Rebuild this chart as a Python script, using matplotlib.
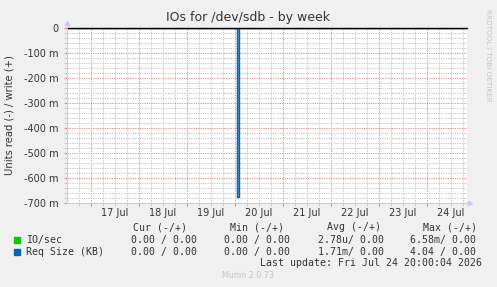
import numpy as np
import pandas as pd
import matplotlib
matplotlib.use("Agg")
import matplotlib.pyplot as plt
import matplotlib.dates as mdates

# data
t_start = pd.Timestamp("2026-07-16 12:00")
t_end = pd.Timestamp("2026-07-24 20:00")
spike_times = pd.to_datetime(["2026-07-16 12:00", "2026-07-20 00:50",
                              "2026-07-20 01:50", "2026-07-24 20:00"])
req_size_read = [0.0, -0.675, 0.0, 0.0]
io_read = [0.0, 0.0, 0.0, 0.0]

y_ticks = [0, -0.1, -0.2, -0.3, -0.4, -0.5, -0.6, -0.7]
y_labels = ["0", "-100 m", "-200 m", "-300 m", "-400 m", "-500 m", "-600 m", "-700 m"]
day_labels = ["17 Jul", "18 Jul", "19 Jul", "20 Jul", "21 Jul", "22 Jul", "23 Jul", "24 Jul"]

legend_names = ["IO/sec", "Req Size (KB)"]
legend_colors = ["#00CC00", "#0066B3"]
cur_vals = ["0.00 / 0.00", "0.00 / 0.00"]
min_vals = ["0.00 / 0.00", "0.00 / 0.00"]
avg_vals = ["2.78u/ 0.00", "1.71m/ 0.00"]
max_vals = ["6.58m/ 0.00", "4.04 / 0.00"]

W, H = 497, 287
bg = "#F0F0F0"
txt = "#333333"
major_c = "#e28a8a"
minor_c = "#c4c4c4"
axis_c = "#c8c8f4"

fig = plt.figure(figsize=(W / 100, H / 100), dpi=100, facecolor=bg)
ax = fig.add_axes([67 / W, 1 - 203 / H, 400 / W, 175 / H])
ax.set_facecolor("white")

ax.set_xlim(t_start, t_end)
ax.set_ylim(-0.7, 0)

# grid
midnights = pd.date_range("2026-07-17", "2026-07-24", freq="D")
six_h = pd.date_range("2026-07-16 18:00", "2026-07-24 18:00", freq="6h")
six_h = [t for t in six_h if t.hour != 0]
ax.set_xticks(midnights)
ax.set_xticks(six_h, minor=True)
ax.set_xticklabels([])
ax.set_yticks(y_ticks)
ax.set_yticklabels(y_labels)
ax.set_yticks(np.arange(-0.68, 0.0, 0.02), minor=True)
ax.grid(which="minor", color=minor_c, linestyle=(0, (1.2, 1.2)), linewidth=0.7)
ax.grid(which="major", color=major_c, linestyle=(0, (1.2, 1.2)), linewidth=0.7)
ax.set_axisbelow(True)
ax.tick_params(which="major", length=2, color=major_c, labelsize=7, labelcolor=txt, pad=4)
ax.tick_params(which="minor", length=2, color=minor_c)

# day labels at noon
for i, lab in enumerate(day_labels):
    ax.text(midnights[i] + pd.Timedelta(hours=12), -0.7 - 0.018, lab, ha="center", va="top",
            fontsize=7, color=txt)

for s in ["top", "right"]:
    ax.spines[s].set_visible(False)
for s in ["left", "bottom"]:
    ax.spines[s].set_color(axis_c)
    ax.spines[s].set_linewidth(0.8)

# series
ax.plot(spike_times, io_read, color=legend_colors[0], lw=1, drawstyle="steps-post")
ax.fill_between(spike_times, req_size_read, 0, step="post", color="#5a9ed6", lw=0)
ax.plot(spike_times, req_size_read, color=legend_colors[1], lw=1, drawstyle="steps-post")
ax.axhline(0, color="black", lw=1, clip_on=False)

# axis arrows
ax.plot([0], [1.03], marker="^", ms=3, color=axis_c, transform=ax.transAxes, clip_on=False)
ax.plot([1.007], [0], marker=">", ms=3, color=axis_c, transform=ax.transAxes, clip_on=False)

# texts
fig.text(248 / W, 1 - 18 / H, "IOs for /dev/sdb - by week", ha="center", va="center",
         fontsize=9, color=txt)
fig.text(10 / W, 1 - 115 / H, "Units read (-) / write (+)", rotation=90, ha="center",
         va="center", fontsize=7.2, color=txt)
fig.text(488 / W, 1 - 55 / H, "RRDTOOL / TOBI OETIKER", rotation=270, ha="center",
         va="center", fontsize=5.2, color="#c4c4c4")
fig.text(248 / W, 1 - 276 / H, "Munin 2.0.73", ha="center", va="center",
         fontsize=5.8, color="#c4c4c4")

mono = dict(family="DejaVu Sans Mono", fontsize=7.15, color=txt, va="center")
hy = 1 - 227.5 / H
fig.text(133 / W, hy, "Cur (-/+)", ha="left", **mono)
fig.text(230 / W, hy, "Min (-/+)", ha="left", **mono)
fig.text(327 / W, hy, "Avg (-/+)", ha="left", **mono)
fig.text(423 / W, hy, "Max (-/+)", ha="left", **mono)
for i in range(2):
    y = 1 - (239.5 + 12.2 * i) / H
    fig.patches.append(plt.Rectangle((14 / W, y - 3 / H), 6 / W, 6 / H,
                                     transform=fig.transFigure, color=legend_colors[i]))
    fig.text(26 / W, y, legend_names[i], ha="left", **mono)
    fig.text(197 / W, y, cur_vals[i], ha="right", **mono)
    fig.text(290 / W, y, min_vals[i], ha="right", **mono)
    fig.text(384 / W, y, avg_vals[i], ha="right", **mono)
    fig.text(476 / W, y, max_vals[i], ha="right", **mono)
fig.text(482 / W, 1 - 263.5 / H, "Last update: Fri Jul 24 20:00:04 2026", ha="right", **mono)

fig.savefig("out.png", dpi=100, facecolor=bg)
